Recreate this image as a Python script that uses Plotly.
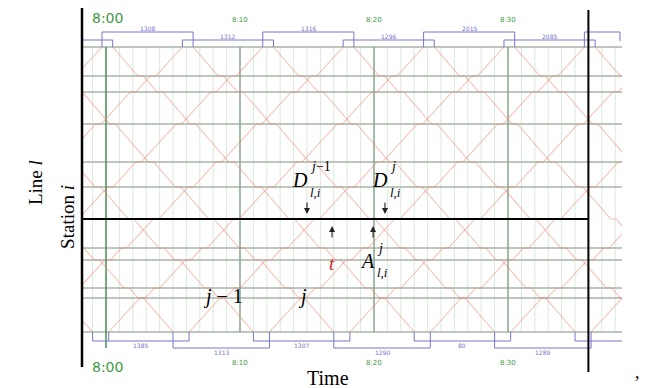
import numpy as np
import plotly.graph_objects as go

# ---------------- data ----------------
# station kilometre posts (top terminal = 0)
STATIONS_KM = [0.0, 1.45, 2.25, 3.85, 5.75, 7.0, 8.6, 10.05, 10.65, 12.05, 12.55, 14.25]
STATION_I_KM = 8.6
# minutes after 8:00
DOWN_DEP_TOP = [-23.5, -17.5, -11.5, -5.5, 0.5, 6.5, 12.5, 18.5, 24.5, 30.5, 36.5]
UP_DEP_BOTTOM = [-23.8, -17.8, -11.8, -5.8, 0.2, 6.2, 12.2, 18.2, 24.2, 30.2, 36.2]
DOWN_RUN = 22.5
UP_RUN = 23.5
DWELL = 0.4
TOP_ARR = [-0.3, 5.7, 11.7, 17.7, 23.7, 29.7, 35.7]
TOP_TURN = 0.8
BOT_ARR = [-1.0, 5.0, 11.0, 17.0, 23.0, 29.0, 35.0]
BOT_TURN = 1.2
TOP_LABELS = ["1308", "1312", "1316", "1296", "2015", "2085"]
BOT_LABELS = ["1385", "1313", "1307", "1290", "80", "1289"]
TEN_MIN = [0, 10, 20, 30]
TEN_MIN_LABELS = ["8:00", "8:10", "8:20", "8:30"]
WINDOW_END = 36.0

X_RANGE = [-1.791, 38.507]
Y_RANGE = [17.05, -2.35]
KM_TOP, KM_BOT = STATIONS_KM[0], STATIONS_KM[-1]

fig = go.Figure()

def add_path(xs, ys, color, width):
    fig.add_trace(go.Scatter(x=xs, y=ys, mode="lines", hoverinfo="skip",
                             line=dict(color=color, width=width), showlegend=False))

# minute grid
gx, gy = [], []
for m in np.arange(-1, 39, 1):
    gx += [m, m, None]
    gy += [KM_TOP, KM_BOT, None]
add_path(gx, gy, "#dbe9dc", 1)

# station lines
sx, sy = [], []
for s in STATIONS_KM:
    if s == STATION_I_KM:
        continue
    sx += [X_RANGE[0], X_RANGE[1], None]
    sy += [s, s, None]
add_path(sx, sy, "#a8b5a8", 1.3)

# ten-minute lines
for i, m in enumerate(TEN_MIN):
    if i == 0:
        add_path([m, m], [KM_TOP, 15.05], "#3f8a4f", 1.4)
    else:
        add_path([m, m], [KM_TOP, KM_BOT], "#7f9f84", 1.3)

# train paths
def train_path(t0, run, kms):
    total = abs(kms[-1] - kms[0])
    moving = run - DWELL * (len(kms) - 2)
    xs, ys = [t0], [kms[0]]
    t = t0
    for a, b in zip(kms[:-1], kms[1:]):
        t += moving * abs(b - a) / total
        xs.append(t); ys.append(b)
        if b != kms[-1]:
            t += DWELL
            xs.append(t); ys.append(b)
    return xs, ys

tx, ty = [], []
for t0 in DOWN_DEP_TOP:
    xs, ys = train_path(t0, DOWN_RUN, STATIONS_KM)
    tx += xs + [None]; ty += ys + [None]
for t0 in UP_DEP_BOTTOM:
    xs, ys = train_path(t0, UP_RUN, STATIONS_KM[::-1])
    tx += xs + [None]; ty += ys + [None]
add_path(tx, ty, "rgba(236,128,108,0.5)", 1.1)

# station i (thick black)
add_path([X_RANGE[0], WINDOW_END], [STATION_I_KM, STATION_I_KM], "black", 2.2)

# turnaround brackets (blue)
BLUE = "#7676cc"
TOP_BOX, TOP_HIGH = -0.35, -0.75
BOT_BOX, BOT_LOW = 14.7, 15.05
bx, by = [], []
ann = []
lab_font = dict(family="DejaVu Sans", size=6, color=BLUE)
# top
bx += [X_RANGE[0], TOP_ARR[0], None]; by += [TOP_BOX, TOP_BOX, None]
for k, a in enumerate(TOP_ARR):
    d = a + TOP_TURN
    bx += [a, a, d, d, None]; by += [KM_TOP, TOP_BOX, TOP_BOX, KM_TOP, None]
    if k + 1 < len(TOP_ARR):
        a2 = TOP_ARR[k + 1]; d2 = a2 + TOP_TURN
        if k % 2 == 0:
            bx += [a, a, d2, d2, None]; by += [TOP_BOX, TOP_HIGH, TOP_HIGH, TOP_BOX, None]
            ann.append(dict(x=(a + d2) / 2, y=TOP_HIGH - 0.2, text=TOP_LABELS[k], font=lab_font))
        else:
            bx += [d, a2, None]; by += [TOP_BOX, TOP_BOX, None]
            ann.append(dict(x=(d + a2) / 2, y=TOP_BOX - 0.18, text=TOP_LABELS[k], font=lab_font))
    else:
        end = X_RANGE[1] - 0.15
        bx += [a, a, end, end, None]; by += [TOP_BOX, TOP_HIGH, TOP_HIGH, TOP_BOX + 0.05, None]
# bottom
for k, a in enumerate(BOT_ARR):
    d = a + BOT_TURN
    bx += [a, a, d, d, None]; by += [KM_BOT, BOT_BOX, BOT_BOX, KM_BOT, None]
    if k + 1 < len(BOT_ARR):
        a2 = BOT_ARR[k + 1]; d2 = a2 + BOT_TURN
        if k % 2 == 0:
            bx += [d, a2, None]; by += [BOT_BOX, BOT_BOX, None]
            ann.append(dict(x=(d + a2) / 2, y=BOT_BOX + 0.2, text=BOT_LABELS[k], font=lab_font))
        else:
            bx += [a, a, d2, d2, None]; by += [BOT_BOX, BOT_LOW, BOT_LOW, BOT_BOX, None]
            ann.append(dict(x=(a + d2) / 2, y=BOT_LOW + 0.2, text=BOT_LABELS[k], font=lab_font))
    else:
        bx += [d, X_RANGE[1], None]; by += [BOT_BOX, BOT_BOX, None]
add_path(bx, by, BLUE, 1)

# time labels
GREEN = "#3f9a45"
for m, lab in zip(TEN_MIN, TEN_MIN_LABELS):
    if m == 0:
        ann.append(dict(x=-1.19, y=-1.45, text=lab, xanchor="left",
                        font=dict(family="DejaVu Sans", size=14, color=GREEN)))
        ann.append(dict(x=-1.19, y=16.0, text=lab, xanchor="left",
                        font=dict(family="DejaVu Sans", size=14, color=GREEN)))
    else:
        ann.append(dict(x=m, y=-1.35, text=lab, font=dict(family="DejaVu Sans", size=7, color=GREEN)))
        ann.append(dict(x=m, y=15.8, text=lab, font=dict(family="DejaVu Sans", size=7, color=GREEN)))

SERIF = "Liberation Serif, DejaVu Serif, serif"
def math(x, y, text, size=20, color="black", xanchor="center"):
    ann.append(dict(x=x, y=y, text=text, xanchor=xanchor,
                    font=dict(family=SERIF, size=size, color=color)))

math(14.48, 6.65, "<i>D</i>")
math(15.07, 5.95, "<i>j</i>−1", size=14, xanchor="left")
math(15.07, 7.25, "<i>l,i</i>", size=13, xanchor="left")
math(20.45, 6.65, "<i>D</i>")
math(21.04, 5.95, "<i>j</i>", size=14, xanchor="left")
math(21.04, 7.25, "<i>l,i</i>", size=13, xanchor="left")
math(16.87, 10.8, "<i>t</i>", size=19, color="#cc2a2a")
math(19.48, 10.7, "<i>A</i>")
math(20.07, 10.05, "<i>j</i>", size=14, xanchor="left")
math(20.07, 11.25, "<i>l,i</i>", size=13, xanchor="left")
math(8.73, 12.45, "<i>j</i> − 1")
math(14.63, 12.45, "<i>j</i>")
math(16.57, 16.55, "Time", size=20)

for a in ann:
    a.setdefault("showarrow", False)
    a.setdefault("xref", "x")
    a.setdefault("yref", "y")
    a.setdefault("yanchor", "middle")
    fig.add_annotation(**a)

# small arrows (down to D, up from A / t)
ARROWS = [(15.0, 8.35, -13), (20.82, 8.35, -13), (16.87, 8.95, 13), (19.93, 8.95, 13)]
for x, y, ay in ARROWS:
    fig.add_annotation(x=x, y=y, xref="x", yref="y", text="", showarrow=True,
                       ax=0, ay=ay, arrowhead=2, arrowsize=1.1, arrowwidth=1.1,
                       arrowcolor="#222222")

fig.add_annotation(x=-0.087, y=1 - 183 / 388, xref="paper", yref="paper", text="Line <i>l</i>",
                   xanchor="center", yanchor="middle",
                   textangle=-90, showarrow=False, font=dict(family=SERIF, size=19, color="black"))
fig.add_annotation(x=-0.028, y=1 - 217 / 388, xref="paper", yref="paper", text="Station <i>i</i>",
                   xanchor="center", yanchor="middle",
                   textangle=-90, showarrow=False, font=dict(family=SERIF, size=19, color="black"))
fig.add_annotation(x=1.0296, y=1 - 372 / 388, xref="paper", yref="paper", text=",",
                   xanchor="center", yanchor="middle",
                   showarrow=False, font=dict(family=SERIF, size=18, color="black"))

# frame lines (black)
fig.add_shape(type="line", xref="paper", yref="paper", x0=0, x1=0, y0=1 - 8 / 388, y1=1 - 367 / 388,
              line=dict(color="black", width=2.5))
fig.add_shape(type="line", xref="x", yref="paper", x0=WINDOW_END, x1=WINDOW_END,
              y0=1 - 10 / 388, y1=1 - 372 / 388, line=dict(color="black", width=2))

fig.update_layout(
    width=645, height=388, margin=dict(l=82, r=23, t=0, b=0, pad=0),
    paper_bgcolor="white", plot_bgcolor="white",
    xaxis=dict(range=X_RANGE, showgrid=False, zeroline=False, showticklabels=False, visible=False),
    yaxis=dict(range=Y_RANGE, showgrid=False, zeroline=False, showticklabels=False, visible=False),
)
fig.write_html("out.html", config={"displayModeBar": False})
